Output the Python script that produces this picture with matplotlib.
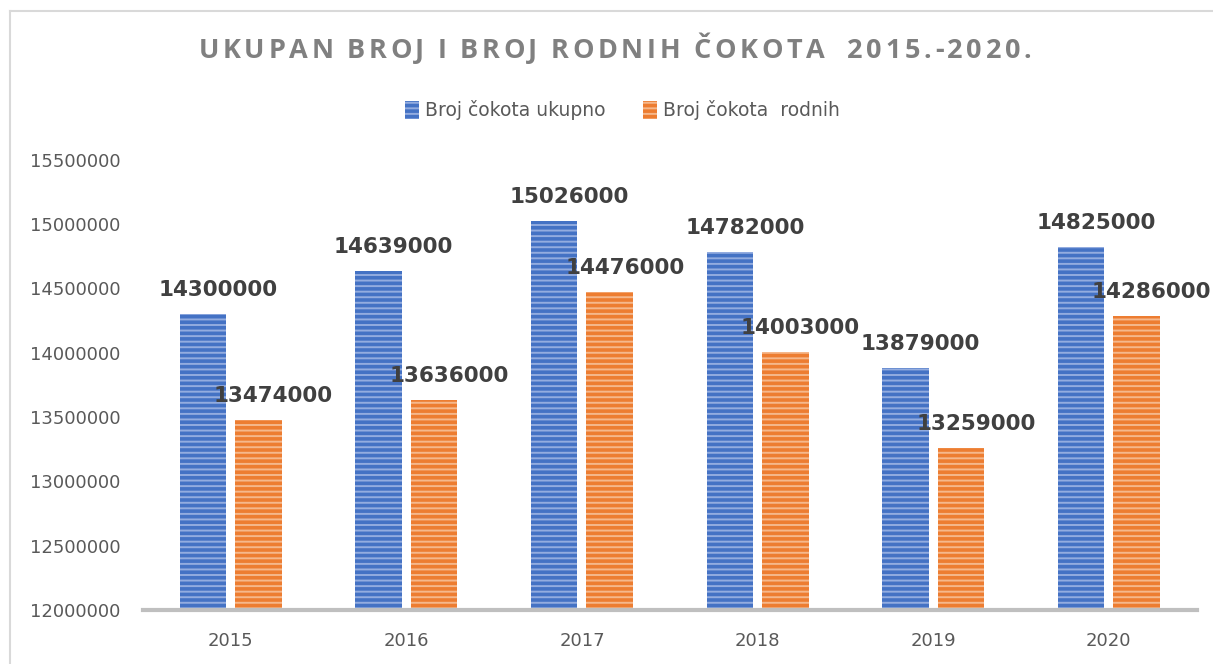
import matplotlib
matplotlib.use("Agg")
import matplotlib.pyplot as plt
import numpy as np

# Podaci
years = ["2015", "2016", "2017", "2018", "2019", "2020"]
ukupno = [14300000, 14639000, 15026000, 14782000, 13879000, 14825000]
rodnih = [13474000, 13636000, 14476000, 14003000, 13259000, 14286000]
series_names = ["Broj čokota ukupno", "Broj čokota  rodnih"]
yticks = [12000000, 12500000, 13000000, 13500000, 14000000, 14500000, 15000000, 15500000]
title = "UKUPAN BROJ I BROJ RODNIH ČOKOTA  2015.-2020."

blue, blue_light = "#4472c4", "#93acdf"
orange, orange_light = "#ed7d31", "#f5b88c"

plt.rcParams["hatch.linewidth"] = 1.4

fig = plt.figure(figsize=(12.13, 6.64), dpi=100)
ax = fig.add_axes([0.1179, 0.0813, 0.8685, 0.678])

x = np.arange(len(years))
w = 0.265
off = 0.158
b1 = ax.bar(x - off, ukupno, w, color=blue, edgecolor=blue_light, linewidth=0, hatch="---")
b2 = ax.bar(x + off, rodnih, w, color=orange, edgecolor=orange_light, linewidth=0, hatch="---")

for bars, vals in ((b1, ukupno), (b2, rodnih)):
    for r, v in zip(bars, vals):
        ax.annotate(str(v), (r.get_x() + r.get_width() / 2, v), xytext=(15, 14),
                    textcoords="offset pixels", ha="center", va="bottom",
                    fontsize=15.5, fontweight="bold", color="#404040")

ax.set_xlim(-0.5, len(years) - 0.5)
ax.set_ylim(12000000, 15500000)
ax.set_yticks(yticks)
ax.set_yticklabels([str(t) for t in yticks])
ax.set_xticks(x)
ax.set_xticklabels(years)
ax.tick_params(axis="both", length=0, labelsize=13, colors="#595959")
ax.tick_params(axis="y", pad=16)
ax.tick_params(axis="x", pad=16)
for s in ["top", "right", "left"]:
    ax.spines[s].set_visible(False)
ax.spines["bottom"].set_color("#bfbfbf")
ax.spines["bottom"].set_linewidth(3)

# legenda
leg = fig.legend([b1, b2], series_names, loc="center", bbox_to_anchor=(0.513, 0.834),
                 ncol=2, frameon=False, fontsize=13.5, handlelength=0.75, handleheight=1.1,
                 handletextpad=0.3, columnspacing=2.0)
for t in leg.get_texts():
    t.set_color("#595959")

# naslov s razmakom slova
renderer = fig.canvas.get_renderer()
fs = 19.5
tfont = "Open Sans"
widths = []
for ch in title:
    t = fig.text(0, 0, ch if ch != " " else "n", fontsize=fs, fontweight="bold", family=tfont)
    wpx = t.get_window_extent(renderer).width
    if ch == " ":
        wpx *= 0.33
    widths.append(wpx)
    t.remove()
target = 833.0
gap = (target - sum(widths)) / (len(title) - 1)
xpos = 615 - target / 2
for ch, wpx in zip(title, widths):
    if ch != " ":
        fig.text(xpos / 1213, 1 - 51 / 664, ch, fontsize=fs, fontweight="bold", family=tfont,
                 color="#808080", ha="left", va="center")
    xpos += wpx + gap

# okvir
fig.add_artist(plt.Line2D([10 / 1213, 10 / 1213], [0, 1 - 11 / 664], color="#d9d9d9", lw=1.5))
fig.add_artist(plt.Line2D([10 / 1213, 1], [1 - 11 / 664, 1 - 11 / 664], color="#d9d9d9", lw=1.5))

fig.savefig("out.png", dpi=100, facecolor="white")
